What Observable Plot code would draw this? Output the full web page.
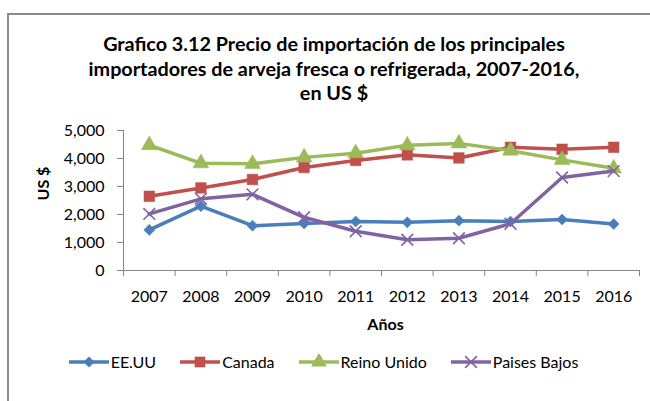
<!DOCTYPE html>
<html>
<head>
<meta charset="utf-8">
<script src="https://cdn.jsdelivr.net/npm/d3@7"></script>
<script src="https://cdn.jsdelivr.net/npm/@observablehq/plot@0.6"></script>
<style>
  html, body { margin: 0; padding: 0; background: #fff; overflow: hidden; }
  #wrap { position: relative; width: 650px; height: 401px; overflow: hidden; font-family: Lato, "Open Sans", sans-serif; }
  #frame { position: absolute; left: 7px; top: 13px; width: 700px; height: 450px; border-left: 2px solid #8a8a8a; border-top: 2px solid #8a8a8a; }
  #title { position: absolute; left: 19px; top: 31px; width: 630px; text-align: center; font-weight: bold; font-size: 19.8px; line-height: 24.5px; color: #000; }
  #chart { position: absolute; left: 0; top: 110px; }
  #legend { position: absolute; left: 3px; top: 352px; width: 641px; display: flex; justify-content: center; align-items: center; gap: 24px; font-size: 16px; color: #000; }
  .item { display: flex; align-items: center; }
  .item svg { margin-right: 2px; }
</style>
</head>
<body>
<div id="wrap">
  <div id="frame"></div>
  <div id="title">Grafico 3.12 Precio de importación de los principales<br>importadores de arveja fresca o refrigerada, 2007-2016,<br>en US $</div>
  <div id="chart"></div>
  <div id="legend"></div>
</div>
<script>
const years = [2007, 2008, 2009, 2010, 2011, 2012, 2013, 2014, 2015, 2016];
const eeuu = [1450, 2300, 1600, 1680, 1750, 1720, 1780, 1750, 1820, 1660];
const canada = [2650, 2950, 3250, 3680, 3930, 4130, 4020, 4400, 4330, 4400];
const reinoUnido = [4480, 3830, 3810, 4040, 4190, 4470, 4540, 4280, 3950, 3650];
const paisesBajos = [2020, 2560, 2720, 1900, 1400, 1100, 1150, 1670, 3320, 3550];
const seriesNames = ["EE.UU", "Canada", "Reino Unido", "Paises Bajos"];
const seriesColors = ["#4A7EBB", "#C0504D", "#9BBB59", "#8064A2"];
const seriesSymbols = ["diamond2", "square", "triangle", "times"];
const yTicks = [0, 1000, 2000, 3000, 4000, 5000];
const xBoundaries = [2006.5, 2007.5, 2008.5, 2009.5, 2010.5, 2011.5, 2012.5, 2013.5, 2014.5, 2015.5, 2016.5];
const xLabel = "Años";
const yLabel = "US $";

const seriesValues = [eeuu, canada, reinoUnido, paisesBajos];
const symbolR = [5.0, 6.0, 5.9, 5.4];

const seriesMarks = seriesValues.flatMap((vals, i) => {
  const rows = years.map((year, j) => ({year, value: vals[j]}));
  const isStroke = seriesSymbols[i] === "times";
  return [
    Plot.line(rows, {x: "year", y: "value", stroke: seriesColors[i], strokeWidth: 3.5}),
    Plot.dot(rows, isStroke
      ? {x: "year", y: "value", symbol: seriesSymbols[i], r: symbolR[i], stroke: seriesColors[i], strokeWidth: 1.6, fill: "none"}
      : {x: "year", y: "value", symbol: seriesSymbols[i], r: symbolR[i], fill: seriesColors[i], stroke: seriesColors[i], strokeWidth: 0.5})
  ];
});

const axisColor = "#868686";
const chart = Plot.plot({
  width: 650,
  height: 230,
  marginLeft: 123,
  marginRight: 11,
  marginTop: 20,
  marginBottom: 70,
  x: {domain: [2006.5, 2016.5]},
  y: {domain: [0, 5000]},
  style: {fontFamily: "Lato, 'Open Sans', sans-serif", fontSize: "16px", color: "#000", background: "transparent", overflow: "visible"},
  marks: [
    Plot.axisY({ticks: yTicks, tickSize: 6, tickPadding: 13, tickFormat: d3.format(","), stroke: axisColor, label: null}),
    Plot.axisX({ticks: xBoundaries, tickSize: 6, tickFormat: () => "", stroke: axisColor, label: null}),
    Plot.axisX({ticks: years, tickSize: 0, tickPadding: 20, tickFormat: d => String(d), label: null}),
    Plot.ruleX([2006.5], {stroke: axisColor}),
    Plot.ruleY([0], {stroke: axisColor}),
    Plot.text([xLabel], {text: d => d, frameAnchor: "bottom", dy: 59, dx: 4, fontWeight: "bold", fontSize: 16}),
    Plot.text([yLabel], {text: d => d, frameAnchor: "left", dx: -80, rotate: -90, fontWeight: "bold", fontSize: 16}),
    ...seriesMarks
  ]
});
document.getElementById("chart").appendChild(chart);

// legend
const legend = d3.select("#legend");
seriesNames.forEach((name, i) => {
  const item = legend.append("div").attr("class", "item");
  const svg = item.append("svg").attr("width", 40).attr("height", 16);
  svg.append("line").attr("x1", 0).attr("x2", 40).attr("y1", 8).attr("y2", 8)
    .attr("stroke", seriesColors[i]).attr("stroke-width", 3.5);
  const symMap = {diamond2: d3.symbolDiamond2, square: d3.symbolSquare, triangle: d3.symbolTriangle, times: d3.symbolTimes};
  const size = Math.PI * symbolR[i] * symbolR[i];
  const path = svg.append("path").attr("d", d3.symbol(symMap[seriesSymbols[i]], size)()).attr("transform", "translate(20,8)");
  if (seriesSymbols[i] === "times") path.attr("fill", "none").attr("stroke", seriesColors[i]).attr("stroke-width", 1.6);
  else path.attr("fill", seriesColors[i]);
  item.append("span").text(name);
});
</script>
</body>
</html>
